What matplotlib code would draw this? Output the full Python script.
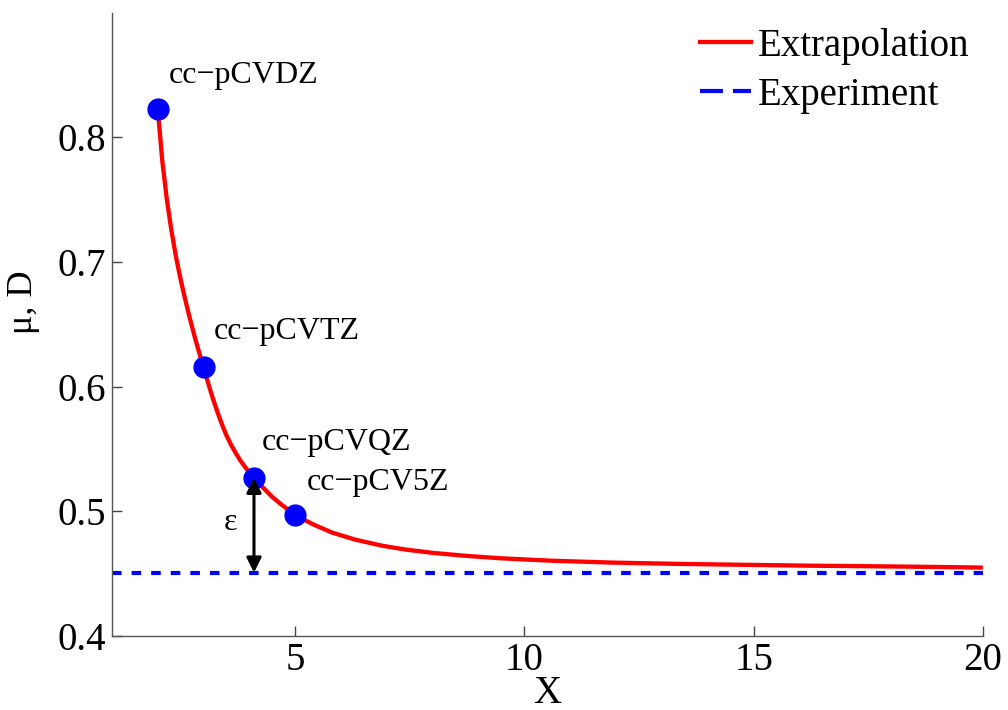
import matplotlib.pyplot as plt
from matplotlib.lines import Line2D

plt.rcParams['font.family'] = ['Liberation Serif', 'DejaVu Serif']

# basis set results
basis_x = [2, 3, 4.1, 5]
basis_y = [0.823, 0.616, 0.527, 0.497]
basis_names = ["cc\u2212pCVDZ", "cc\u2212pCVTZ", "cc\u2212pCVQZ", "cc\u2212pCV5Z"]
label_x = [2.25, 3.23, 4.28, 5.26]
label_y = [0.844, 0.638, 0.549, 0.517]

# extrapolation curve
curve_x = [2.0, 2.1, 2.2, 2.3, 2.4, 2.5, 2.6, 2.7, 2.8, 2.9,
           3.0, 3.1, 3.2, 3.3, 3.4, 3.5, 3.6, 3.7, 3.8, 3.9, 4.0,
           4.1, 4.3, 4.5, 4.7, 4.85, 5.0, 5.4, 5.81, 6.3, 6.9, 7.4, 8.0,
           8.7, 9.46, 10.6, 11.92, 13.3, 14.85, 16.3, 17.76, 19.0, 20.0]
curve_y = [0.823, 0.781, 0.750, 0.725, 0.704, 0.686, 0.670, 0.655, 0.641, 0.628,
           0.616, 0.603, 0.591, 0.580, 0.570, 0.561, 0.5535, 0.547, 0.541, 0.536, 0.5313,
           0.527, 0.519, 0.5116, 0.5055, 0.5013, 0.497, 0.4895, 0.483, 0.4775, 0.4725,
           0.4695, 0.4668, 0.4645, 0.4625, 0.4605, 0.459, 0.458, 0.4572, 0.4565, 0.456,
           0.4555, 0.455]

experiment = 0.451

fig = plt.figure(figsize=(10.08, 7.10), dpi=100)
ax = fig.add_axes([0.111, 0.104, 0.864, 0.878])

ax.plot(curve_x, curve_y, color="#ff0000", lw=3.1, solid_capstyle="butt", zorder=3)
ax.plot([1, 20], [experiment, experiment], color="#0000ff", lw=3, dashes=(2.3, 2.4), zorder=2)
ax.plot(basis_x, basis_y, "o", color="#0000ff", ms=15, zorder=4)

for lx, ly, name in zip(label_x, label_y, basis_names):
    ax.text(lx, ly, name, fontsize=23, va="baseline", ha="left")

ax.annotate("", xy=(basis_x[2], basis_y[2]), xytext=(basis_x[2], experiment),
            arrowprops=dict(arrowstyle="<|-|>", color="black", lw=2.2,
                            mutation_scale=22, shrinkA=0, shrinkB=0), zorder=5)
ax.text(3.58, 0.4915, "\u03b5", fontsize=23, ha="center", va="center")

ax.set_xlim(1, 20)
ax.set_ylim(0.4, 0.9)
ax.set_xticks([5, 10, 15, 20])
ax.set_yticks([0.4, 0.5, 0.6, 0.7, 0.8])
ax.set_yticklabels(["0.4", "0.5", "0.6", "0.7", "0.8"])
ax.tick_params(direction="in", length=7, width=1, color="#444444", labelsize=28, pad=4)
for side in ["top", "right"]:
    ax.spines[side].set_visible(False)
for side in ["left", "bottom"]:
    ax.spines[side].set_color("#555555")
    ax.spines[side].set_linewidth(1)

ax.set_xlabel("X", fontsize=28)
ax.xaxis.set_label_coords(0.5, -0.062)
ax.set_ylabel("\u03bc, D", fontsize=26)
ax.yaxis.set_label_coords(-0.083, 0.535)

handles = [Line2D([], [], color="#ff0000", lw=3.1),
           Line2D([], [], color="#0000ff", lw=3, dashes=(5.5, 2.4))]
ax.legend(handles, ["Extrapolation", "Experiment"], loc="upper left",
          bbox_to_anchor=(700 / 1008, 1 - 28 / 710), bbox_transform=fig.transFigure,
          frameon=False, fontsize=28, handlelength=1.3, handletextpad=0.2,
          labelspacing=0.3, borderpad=0, borderaxespad=0)

fig.savefig("out.png", dpi=100)
